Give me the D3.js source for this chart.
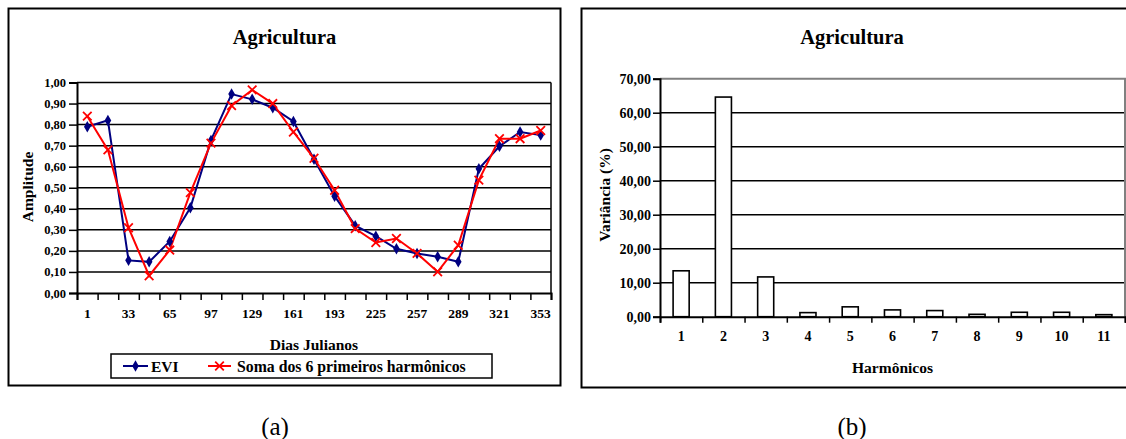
<!DOCTYPE html>
<html><head><meta charset="utf-8">
<script src="https://cdn.jsdelivr.net/npm/d3@7"></script>
<style>
html,body{margin:0;padding:0;background:#fff;}
svg text{font-family:"Liberation Serif","Times New Roman",serif !important;}
</style></head>
<body>
<svg id="c" width="1126" height="439"></svg>
<script>
// ---------- data ----------
const days = [1,17,33,49,65,81,97,113,129,145,161,177,193,209,225,241,257,273,289,305,321,337,353];
const evi  = [0.79,0.82,0.155,0.148,0.245,0.405,0.725,0.945,0.92,0.88,0.815,0.635,0.46,0.32,0.27,0.21,0.188,0.172,0.148,0.59,0.697,0.765,0.75];
const soma = [0.84,0.68,0.31,0.082,0.204,0.477,0.712,0.89,0.965,0.90,0.765,0.64,0.488,0.306,0.24,0.259,0.188,0.101,0.227,0.536,0.733,0.733,0.772];
const ampTicks = [0,0.1,0.2,0.3,0.4,0.5,0.6,0.7,0.8,0.9,1.0];
const harmonics = ["1","2","3","4","5","6","7","8","9","10","11"];
const variance = [13.5,64.6,11.7,1.2,2.9,2.0,1.8,0.7,1.3,1.3,0.6];
const varTicks = [0,10,20,30,40,50,60,70];
const fmt = d => d3.format(".2f")(d).replace(".", ",");
const SERIF = '"Liberation Serif", "Times New Roman", serif';

const svg = d3.select("#c");

// ---------- panel (a) ----------
svg.append("rect").attr("x",8.5).attr("y",8.5).attr("width",552).attr("height",377)
  .attr("fill","none").attr("stroke","#000").attr("stroke-width",2);
svg.append("text").attr("x",284.5).attr("y",44).attr("text-anchor","middle")
  .style("font-size","20.5px").style("font-weight","bold").text("Agricultura");

const L = {x0:77, x1:551, y0:293, y1:82.5};
const xb = d3.scaleBand().domain(days).range([L.x0,L.x1]).padding(0);
const xl = d3.scaleLinear().domain([0,days.length]).range([L.x0,L.x1]);
const ya = d3.scaleLinear().domain([0,1]).range([L.y0,L.y1]);
const ga = svg.append("g");

// grid
ga.selectAll("line.g").data(ampTicks.filter(d=>d>0)).join("line")
  .attr("x1",L.x0).attr("x2",L.x1).attr("y1",d=>ya(d)).attr("y2",d=>ya(d))
  .attr("stroke","#000").attr("stroke-width",1.5);
ga.append("line").attr("x1",L.x1).attr("x2",L.x1).attr("y1",L.y1).attr("y2",L.y0)
  .attr("stroke","#000").attr("stroke-width",1.5);

// y axis
const yAxA = ga.append("g").attr("transform",`translate(${L.x0},0)`)
  .call(d3.axisLeft(ya).tickValues(ampTicks).tickFormat(fmt).tickSizeOuter(0).tickSize(8).tickPadding(3));
yAxA.attr("font-family",SERIF);
yAxA.select(".domain").attr("stroke-width",2);
yAxA.selectAll(".tick line").attr("stroke-width",1.5);
yAxA.selectAll("text").style("font-size","12.5px").style("font-weight","bold");

// x axis
const xAxA = ga.append("g").attr("transform",`translate(0,${L.y0})`)
  .call(d3.axisBottom(xl).tickValues(d3.range(days.length+1)).tickFormat("").tickSizeOuter(0).tickSize(7));
xAxA.select(".domain").attr("stroke-width",2);
xAxA.selectAll(".tick line").attr("stroke-width",1.5);
ga.selectAll("text.xl").data(days.filter((d,i)=>i%2===0)).join("text")
  .attr("x",d=>xb(d)+xb.bandwidth()/2).attr("y",318).attr("text-anchor","middle")
  .style("font-size","13.5px").style("font-weight","bold").text(d=>d);

// axis titles
ga.append("text").attr("transform",`translate(33,187) rotate(-90)`).attr("text-anchor","middle")
  .style("font-size","15.5px").style("font-weight","bold").text("Amplitude");
ga.append("text").attr("x",(L.x0+L.x1)/2).attr("y",350).attr("text-anchor","middle")
  .style("font-size","15.5px").style("font-weight","bold").text("Dias Julianos");

// lines
const cx = (d,i)=>xb(days[i])+xb.bandwidth()/2;
const line = d3.line().x((d,i)=>cx(d,i)).y(d=>ya(d));
ga.append("path").datum(evi).attr("d",line).attr("fill","none").attr("stroke","#000080").attr("stroke-width",2);
ga.append("path").datum(soma).attr("d",line).attr("fill","none").attr("stroke","#ff0000").attr("stroke-width",2);
const diamond = d3.symbol().type(d3.symbolDiamond).size(38);
ga.selectAll("path.dm").data(evi).join("path")
  .attr("transform",(d,i)=>`translate(${cx(d,i)},${ya(d)})`).attr("d",diamond()).attr("fill","#000080");
const cross = d3.symbol().type(d3.symbolX).size(50);
ga.selectAll("path.cr").data(soma).join("path")
  .attr("transform",(d,i)=>`translate(${cx(d,i)},${ya(d)})`).attr("d",cross())
  .attr("fill","none").attr("stroke","#ff0000").attr("stroke-width",1.8);

// legend
const lg = svg.append("g");
lg.append("rect").attr("x",111).attr("y",354).attr("width",381).attr("height",24)
  .attr("fill","#fff").attr("stroke","#000").attr("stroke-width",1.5);
lg.append("line").attr("x1",123).attr("x2",148).attr("y1",366).attr("y2",366).attr("stroke","#000080").attr("stroke-width",2);
lg.append("path").attr("transform","translate(135.5,366)").attr("d",diamond()).attr("fill","#000080");
lg.append("text").attr("x",151).attr("y",372).style("font-size","15.5px").style("font-weight","bold").text("EVI");
lg.append("line").attr("x1",208).attr("x2",231).attr("y1",366).attr("y2",366).attr("stroke","#ff0000").attr("stroke-width",2);
lg.append("path").attr("transform","translate(219.5,366)").attr("d",cross()).attr("fill","none").attr("stroke","#ff0000").attr("stroke-width",1.8);
lg.append("text").attr("x",237).attr("y",372).style("font-size","15.8px").style("font-weight","bold").text("Soma dos 6 primeiros harmônicos");

svg.append("text").attr("x",275).attr("y",435).attr("text-anchor","middle").style("font-size","25px").text("(a)");

// ---------- panel (b) ----------
svg.append("rect").attr("x",581.5).attr("y",8.5).attr("width",560).attr("height",379)
  .attr("fill","none").attr("stroke","#000").attr("stroke-width",2);
svg.append("text").attr("x",852).attr("y",44).attr("text-anchor","middle")
  .style("font-size","20.5px").style("font-weight","bold").text("Agricultura");

const R = {x0:660, x1:1125, y0:316.7, y1:78.7};
const xh = d3.scaleBand().domain(harmonics).range([R.x0,R.x1]).padding(0);
const xhl = d3.scaleLinear().domain([0,harmonics.length]).range([R.x0,R.x1]);
const yv = d3.scaleLinear().domain([0,70]).range([R.y0,R.y1]);
const gb = svg.append("g");

gb.selectAll("line.g").data(varTicks.filter(d=>d>0&&d<70)).join("line")
  .attr("x1",R.x0).attr("x2",R.x1).attr("y1",d=>yv(d)).attr("y2",d=>yv(d))
  .attr("stroke","#000").attr("stroke-width",1.5);
gb.append("path").attr("d",`M${R.x0},${yv(70)}H${R.x1}V${R.y0}`)
  .attr("fill","none").attr("stroke","#808080").attr("stroke-width",2);

const bw = xh.bandwidth()*0.38;
gb.selectAll("rect.b").data(variance).join("rect")
  .attr("x",(d,i)=>xh(harmonics[i])+xh.bandwidth()/2-bw/2).attr("width",bw)
  .attr("y",d=>yv(d)).attr("height",d=>yv(0)-yv(d))
  .attr("fill","#fff").attr("stroke","#000").attr("stroke-width",1.6);

const yAxB = gb.append("g").attr("transform",`translate(${R.x0},0)`)
  .call(d3.axisLeft(yv).tickValues(varTicks).tickFormat(fmt).tickSizeOuter(0).tickSize(7).tickPadding(2));
yAxB.attr("font-family",SERIF);
yAxB.select(".domain").attr("stroke-width",2);
yAxB.selectAll(".tick line").attr("stroke-width",1.5);
yAxB.selectAll("text").style("font-size","14px").style("font-weight","bold");

const xAxB = gb.append("g").attr("transform",`translate(0,${R.y0})`)
  .call(d3.axisBottom(xhl).tickValues(d3.range(harmonics.length+1)).tickFormat("").tickSizeOuter(0).tickSize(6));
xAxB.select(".domain").attr("stroke-width",2);
xAxB.selectAll(".tick line").attr("stroke-width",1.5);
gb.selectAll("text.xl").data(harmonics).join("text")
  .attr("x",d=>xh(d)+xh.bandwidth()/2).attr("y",341).attr("text-anchor","middle")
  .style("font-size","14px").style("font-weight","bold").text(d=>d);

gb.append("text").attr("transform",`translate(610,195) rotate(-90)`).attr("text-anchor","middle")
  .style("font-size","15.5px").style("font-weight","bold").text("Variância (%)");
gb.append("text").attr("x",(R.x0+R.x1)/2).attr("y",373).attr("text-anchor","middle")
  .style("font-size","15.5px").style("font-weight","bold").text("Harmônicos");

svg.append("text").attr("x",852).attr("y",435).attr("text-anchor","middle").style("font-size","25px").text("(b)");

svg.selectAll("text").style("font-family", SERIF);
</script>
</body></html>
